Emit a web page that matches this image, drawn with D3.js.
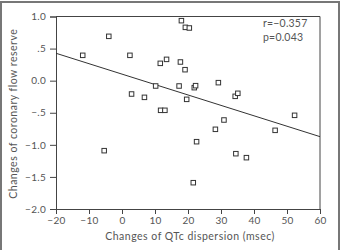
<!DOCTYPE html>
<html><head><meta charset="utf-8">
<script src="https://cdn.jsdelivr.net/npm/d3@7"></script>
<style>
html,body{margin:0;padding:0;background:#fff;}
svg{display:block;}
text{font-family:"Lato","Open Sans",sans-serif;fill:#555;}
</style></head>
<body>
<svg id="chart" width="344" height="250"></svg>
<script>
// Data
const qtcChange = [18.0,19.2,20.4,-4.0,-11.9,2.4,11.6,13.5,17.7,19.1,10.2,17.3,21.9,22.3,29.2,2.9,6.8,19.6,34.3,35.1,11.7,13.0,30.9,28.3,52.3,46.4,22.6,-5.4,34.5,37.7,21.6];
const cfrChange = [0.935,0.831,0.821,0.691,0.395,0.395,0.270,0.332,0.291,0.171,-0.083,-0.083,-0.109,-0.078,-0.031,-0.208,-0.260,-0.291,-0.244,-0.197,-0.462,-0.462,-0.613,-0.758,-0.540,-0.774,-0.951,-1.091,-1.138,-1.200,-1.590];
const xTicks = [-20,-10,0,10,20,30,40,50,60];
const yTicks = [1.0,0.5,0.0,-0.5,-1.0,-1.5,-2.0];
const yTickLabels = ["1.0",".5","0.0","\u2212.5","\u22121.0","\u22121.5","\u22122.0"];
const xTickLabels = ["\u221220","\u221210","0","10","20","30","40","50","60"];
const regIntercept = 0.102, regSlope = -0.01624;
const statsText = ["r=\u22120.357","p=0.043"];

const svg = d3.select("#chart");
const L = 56, R = 320, T = 16.5, B = 209;
const x = d3.scaleLinear().domain([-20,60]).range([L,R]);
const y = d3.scaleLinear().domain([-2,1]).range([B,T]);

// outer frame
svg.append("rect").attr("x",1).attr("y",2).attr("width",338).attr("height",260)
  .attr("fill","none").attr("stroke","#777").attr("stroke-width",2);

// plot box top/right
svg.append("line").attr("x1",L).attr("x2",R).attr("y1",T).attr("y2",T).attr("stroke","#444");
svg.append("line").attr("x1",R).attr("x2",R).attr("y1",T).attr("y2",B).attr("stroke","#444");

const xAxis = d3.axisBottom(x).tickValues(xTicks).tickSize(5).tickPadding(3)
  .tickFormat((d,i)=>xTickLabels[i]);
const gx = svg.append("g").attr("transform",`translate(0,${B})`).call(xAxis);
const yAxis = d3.axisLeft(y).tickValues(yTicks).tickSize(6).tickPadding(4)
  .tickFormat((d,i)=>yTickLabels[i]);
const gy = svg.append("g").attr("transform",`translate(${L},0)`).call(yAxis);
[gx,gy].forEach(g=>{
  g.select(".domain").attr("stroke","#444");
  g.selectAll(".tick line").attr("stroke","#444");
  g.selectAll(".tick text").attr("fill","#666").attr("font-size","10px")
    .attr("letter-spacing","0.3px")
    .attr("font-family","Lato, 'Open Sans', sans-serif");
});

// regression line
svg.append("line")
  .attr("x1",x(-20)).attr("y1",y(regIntercept+regSlope*-20))
  .attr("x2",x(60)).attr("y2",y(regIntercept+regSlope*60))
  .attr("stroke","#333").attr("stroke-width",1);

// points
const s = 4.5;
svg.append("g").selectAll("rect").data(qtcChange.map((v,i)=>[v,cfrChange[i]])).join("rect")
  .attr("x",d=>x(d[0])-s/2).attr("y",d=>y(d[1])-s/2)
  .attr("width",s).attr("height",s)
  .attr("fill","#fff").attr("stroke","#333").attr("stroke-width",1);

// stats
svg.append("g").selectAll("text").data(statsText).join("text")
  .attr("x",263).attr("y",(d,i)=>27+i*14).attr("font-size","10.5px")
  .attr("fill","#666").attr("letter-spacing","0.2px").text(d=>d);

// axis titles
svg.append("text").attr("x",(L+R)/2+2).attr("y",240).attr("text-anchor","middle")
  .attr("font-size","10.5px").attr("letter-spacing","0.5px").attr("fill","#666")
  .text("Changes of QTc dispersion (msec)");
svg.append("text").attr("transform",`translate(17,${(T+B)/2+1}) rotate(-90)`)
  .attr("text-anchor","middle").attr("font-size","10.5px").attr("letter-spacing","0.5px")
  .attr("fill","#666").text("Changes of coronary flow reserve");
</script>
</body></html>
